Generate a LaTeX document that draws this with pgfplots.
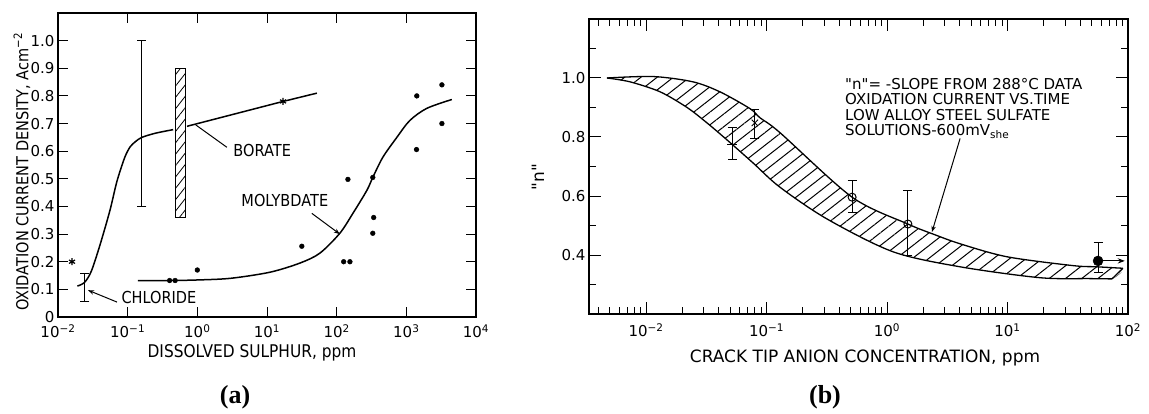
\documentclass[border=0pt]{standalone}
\usepackage{pgfplots}
\pgfplotsset{compat=1.18}
\usetikzlibrary{patterns.meta, arrows.meta}
\usepackage{fontspec}
\newfontfamily\lettering{DejaVu Sans}[FakeStretch=0.88]
\newfontfamily\gothic{DejaVu Sans}
\newfontfamily\capserif{Liberation Serif}
\newcommand\tickfont{\gothic\fontsize{15pt}{17pt}\selectfont}
\newcommand\labfont{\lettering\fontsize{16.5pt}{18pt}\selectfont}
\newcommand\titlefont{\lettering\fontsize{17.5pt}{19pt}\selectfont}
\newcommand\btitlefont{\gothic\fontsize{17pt}{19pt}\selectfont}
\newcommand\notefont{\gothic\fontsize{15pt}{15.5pt}\selectfont}

\pgfplotsset{
  ebar/.style={
    error bars/.cd, y dir=both, y explicit,
    error bar style={line width=1pt, black},
    error mark options={rotate=90, mark size=4.5pt, line width=1pt, black},
  },
}

\begin{document}
\begin{tikzpicture}[x=1pt,y=1pt]
\path[use as bounding box] (0,0) rectangle (1149,413);

% ---------------- (a) oxidation current density vs dissolved sulphur
\begin{axis}[
  scale only axis, clip=false, xmode=log,
  tick align=inside,
  axis line style={line width=1.3pt},
  every tick/.append style={line width=1pt, black},
  tick label style={font=\tickfont},
  xticklabel style={yshift=-4pt},
  at={(58pt,96pt)}, anchor=south west,
  width=418pt, height=304pt,
  xmin=1e-2, xmax=1e4, ymin=0, ymax=1.1,
  xtick={1e-2,1e-1,1,1e1,1e2,1e3,1e4},
  xticklabels={10\textsuperscript{−2},10\textsuperscript{−1},10\textsuperscript{0},10\textsuperscript{1},10\textsuperscript{2},10\textsuperscript{3},10\textsuperscript{4}},
  xminorticks=false,
  ytick={0,0.1,0.2,0.3,0.4,0.5,0.6,0.7,0.8,0.9,1.0},
  yticklabels={0,0.1,0.2,0.3,0.4,0.5,0.6,0.7,0.8,0.9,1.0},
  major tick length=10pt,
]
% borate curve
\addplot[line width=1.5pt, smooth, tension=0.5] coordinates {
  (0.019,0.112)(0.024,0.125)(0.03,0.165)(0.04,0.26)(0.0557,0.386)
  (0.07,0.49)(0.09,0.575)(0.108,0.615)(0.13,0.635)(0.16,0.65)
  (0.25,0.665)(0.45,0.678)};
\addplot[line width=1.5pt] coordinates {(0.71,0.69)(17,0.78)(52,0.81)};
\addplot[only marks, mark=asterisk, mark size=3.5pt, line width=1.2pt]
  coordinates {(0.0159,0.2)(17,0.78)};
% chloride scatter band
\addplot[draw=none, mark=none, ebar] coordinates {(0.0244,0.107) +- (0,0.052)};
% borate scatter range
\addplot[draw=none, mark=none, ebar] coordinates {(0.16,0.70) +- (0,0.30)};
% borate range box
\addplot[draw=black, line width=1pt, fill=white,
  postaction={pattern={Lines[angle=52,distance=7pt,line width=0.8pt]}}]
  coordinates {(0.48,0.36)(0.685,0.36)(0.685,0.9)(0.48,0.9)} -- cycle;
% molybdate curve
\addplot[line width=1.5pt, smooth, tension=0.5] coordinates {
  (0.14,0.132)(0.4,0.132)(1,0.134)(3,0.14)(11,0.162)(29.6,0.195)
  (57.4,0.231)(111,0.303)(171,0.375)(271,0.458)(330,0.505)(460,0.578)
  (731,0.65)(1122,0.711)(1968,0.755)(4500,0.787)};
\addplot[only marks, mark=*, mark size=2.4pt] coordinates {
  (0.40,0.132)(0.48,0.132)(1.0,0.17)(31.6,0.256)(126,0.20)(155,0.20)
  (145,0.498)(330,0.505)(340,0.36)(330,0.303)(1413,0.80)(1400,0.606)
  (3240,0.84)(3240,0.70)};
% curve labels
\node[anchor=west, font=\labfont] at (axis cs:2.94,0.603) {BORATE};
\draw[line width=1pt] (axis cs:0.95,0.695) -- (axis cs:2.66,0.614);
\node[anchor=west, font=\labfont] at (axis cs:3.83,0.422) {MOLYBDATE};
\draw[line width=1pt, -{Stealth[length=6pt]}] (axis cs:44,0.375) -- (axis cs:111,0.30);
\node[anchor=west, font=\labfont] at (axis cs:0.0727,0.072) {CHLORIDE};
\draw[line width=1pt, -{Stealth[length=6pt]}] (axis cs:0.0703,0.054) -- (axis cs:0.027,0.097);
\end{axis}

% ---------------- (b) slope n vs crack tip anion concentration
\begin{axis}[
  scale only axis, clip=false, xmode=log,
  tick align=inside,
  axis line style={line width=1.3pt},
  every tick/.append style={line width=1pt, black},
  tick label style={font=\tickfont},
  xticklabel style={yshift=-6pt},
  at={(589pt,99pt)}, anchor=south west,
  width=539pt, height=295pt,
  xmin=3.36e-3, xmax=100, ymin=0.2, ymax=1.2,
  xtick={1e-2,1e-1,1,1e1,1e2},
  xticklabels={10\textsuperscript{−2},10\textsuperscript{−1},10\textsuperscript{0},10\textsuperscript{1},10\textsuperscript{2}},
  minor xtick={4e-3,5e-3,6e-3,7e-3,8e-3,9e-3,
    2e-2,3e-2,4e-2,5e-2,6e-2,7e-2,8e-2,9e-2,
    0.2,0.3,0.4,0.5,0.6,0.7,0.8,0.9,
    2,3,4,5,6,7,8,9,20,30,40,50,60,70,80,90},
  ytick={0.4,0.6,0.8,1.0},
  yticklabels={0.4,0.6,0.8,1.0},
  minor ytick={0.3,0.5,0.7,0.9,1.1},
  major tick length=12pt, minor tick length=7pt,
]
% hatched band of n values
\addplot[draw=none, smooth, tension=0.5,
  pattern={Lines[angle=38,distance=10pt,line width=1pt]}] coordinates {
  (0.00474,1.0)(0.01144,1.005)(0.0245,0.987)(0.0411,0.953)(0.073,0.896)
  (0.0883,0.865)(0.129,0.815)(0.513,0.596)(1.49,0.505)(2.41,0.471)
  (4.04,0.438)(9.9,0.394)(35,0.364)(55,0.36)(90.8,0.355)
  (73.6,0.319)(48,0.32)(18.6,0.323)(4.04,0.36)(1.12,0.411)
  (0.318,0.522)(0.129,0.63)(0.0773,0.712)(0.047,0.79)(0.032,0.848)
  (0.0219,0.9)(0.0131,0.953)(0.00736,0.987)} -- cycle;
\addplot[smooth, tension=0.5, line width=1.3pt] coordinates {
  (0.00474,1.0)(0.01144,1.005)(0.0245,0.987)(0.0411,0.953)(0.073,0.896)
  (0.0883,0.865)(0.129,0.815)(0.513,0.596)(1.49,0.505)(2.41,0.471)
  (4.04,0.438)(9.9,0.394)(35,0.364)(55,0.36)(90.8,0.355)};
\addplot[smooth, tension=0.5, line width=1.3pt] coordinates {
  (0.00474,1.0)(0.00736,0.987)(0.0131,0.953)(0.0219,0.9)(0.032,0.848)
  (0.047,0.79)(0.0773,0.712)(0.129,0.63)(0.318,0.522)(1.12,0.411)
  (4.04,0.36)(18.6,0.323)(48,0.32)(73.6,0.319)};
\addplot[line width=1.3pt] coordinates {(90.8,0.355)(73.6,0.319)};
% measured slopes
\addplot[only marks, mark=+, mark size=5pt, line width=1pt, ebar]
  coordinates {(0.0518,0.774) += (0,0.058) -= (0,0.05)};
\addplot[only marks, mark=x, mark size=4.5pt, line width=1pt, ebar]
  coordinates {(0.080,0.848) += (0,0.044) -= (0,0.053)};
\addplot[only marks, mark=o, mark size=4pt, line width=1pt,
  mark options={fill=white}, ebar]
  coordinates {(0.513,0.596) += (0,0.057) -= (0,0.051)
               (1.49,0.505) += (0,0.115) -= (0,0.108)};
\addplot[line width=1pt, -{Stealth[length=7pt]}] coordinates {(56.4,0.38)(94,0.38)};
\addplot[only marks, mark=*, mark size=5pt, ebar]
  coordinates {(56.4,0.38) += (0,0.064) -= (0,0.04)};
% note
\node[anchor=north west, align=left, font=\notefont, inner sep=0pt]
  at (axis cs:0.448,1.0) {"n"= -SLOPE FROM 288°C DATA\\
  OXIDATION CURRENT VS.TIME\\
  LOW ALLOY STEEL SULFATE\\
  SOLUTIONS-600mV\textsubscript{she}};
\draw[line width=1pt, -{Stealth[length=6pt]}] (axis cs:4.04,0.795) -- (axis cs:2.36,0.478);
\end{axis}

% axis titles and panel captions
\node[rotate=90, font=\labfont] at (22,241) {OXIDATION CURRENT DENSITY, Acm\textsuperscript{−2}};
\node[font=\titlefont] at (252,60) {DISSOLVED SULPHUR, ppm};
\node[rotate=90, font=\btitlefont] at (538,236) {"n"};
\node[font=\btitlefont] at (865,55) {CRACK TIP ANION CONCENTRATION, ppm};
\node[font=\capserif\bfseries\fontsize{26pt}{28pt}\selectfont] at (235,16) {(a)};
\node[font=\capserif\bfseries\fontsize{26pt}{28pt}\selectfont] at (825,16) {(b)};
\end{tikzpicture}
\end{document}
